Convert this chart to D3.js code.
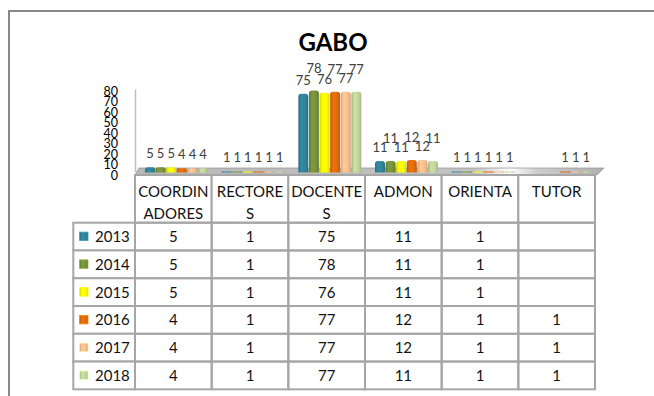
<!DOCTYPE html>
<html>
<head>
<meta charset="utf-8">
<script src="https://cdn.jsdelivr.net/npm/d3@7"></script>
<style>
  body { margin: 0; background: #fff; }
  svg { display: block; font-family: Lato, "Liberation Sans", sans-serif; }
</style>
</head>
<body>
<svg id="chart" width="654" height="396"></svg>
<script>
// Staff counts per role, one array per year
const categories = ["COORDINADORES", "RECTORES", "DOCENTES", "ADMON", "ORIENTA", "TUTOR"];
const years = ["2013", "2014", "2015", "2016", "2017", "2018"];
const v2013 = [5, 1, 75, 11, 1, null];
const v2014 = [5, 1, 78, 11, 1, null];
const v2015 = [5, 1, 76, 11, 1, null];
const v2016 = [4, 1, 77, 12, 1, 1];
const v2017 = [4, 1, 77, 12, 1, 1];
const v2018 = [4, 1, 77, 11, 1, 1];
const yTicks = [0, 10, 20, 30, 40, 50, 60, 70, 80];
const colors = ["#31849B", "#77933C", "#FFFF00", "#E36C09", "#FAC090", "#C3D69B"];

const seriesValues = [v2013, v2014, v2015, v2016, v2017, v2018];
const series = years.map((yr, i) => ({ year: yr, color: colors[i], values: seriesValues[i] }));

const svg = d3.select("#chart");
const defs = svg.append("defs");

// Outer frame
svg.append("rect").attr("x", 9).attr("y", 11).attr("width", 680).attr("height", 420)
  .attr("fill", "none").attr("stroke", "#888").attr("stroke-width", 2);

// Title
svg.append("text").attr("x", 333).attr("y", 51).attr("text-anchor", "middle")
  .attr("font-size", 24).attr("font-weight", 700).attr("fill", "#000").text("GABO");

// Scales
const x = d3.scaleBand().domain(categories).range([135, 595]);
const xs = d3.scaleBand().domain(years).range([10, 73]).paddingInner(0.06);
const y = d3.scaleLinear().domain([0, 80]).range([172.5, 88.5]);

// Bar shading gradients
series.forEach((s, i) => {
  const c = d3.color(s.color);
  const g = defs.append("linearGradient").attr("id", "bar" + i)
    .attr("x1", 0).attr("x2", 1).attr("y1", 0).attr("y2", 0);
  g.append("stop").attr("offset", 0).attr("stop-color", c.darker(0.5));
  g.append("stop").attr("offset", 0.3).attr("stop-color", c.brighter(0.15));
  g.append("stop").attr("offset", 0.7).attr("stop-color", c);
  g.append("stop").attr("offset", 1).attr("stop-color", c.darker(0.45));
});

// Floor gradient
const fg = defs.append("linearGradient").attr("id", "floor")
  .attr("x1", 0).attr("x2", 1).attr("y1", 0).attr("y2", 0);
[[0, "#b8b8b8"], [0.72, "#c2c2c2"], [0.8, "#ffffff"], [0.86, "#cccccc"], [1, "#b0b0b0"]]
  .forEach(([o, c]) => fg.append("stop").attr("offset", o).attr("stop-color", c));

// Back wall edge (value axis line)
svg.append("line").attr("x1", 135.5).attr("x2", 135.5).attr("y1", y(80) + 1).attr("y2", 172)
  .attr("stroke", "#bfbfbf").attr("stroke-width", 1.5);

// Floor slab
svg.append("path")
  .attr("d", "M139,168 L604,168 L597,175 L135,175 Z")
  .attr("fill", "url(#floor)").attr("stroke", "#999").attr("stroke-width", 0.8);

// Value axis labels
const axis = d3.axisLeft(y).tickValues(yTicks).tickSize(0).tickPadding(0);
const ag = svg.append("g").attr("transform", "translate(118,2.5)").call(axis);
ag.select(".domain").remove();
ag.selectAll("text")
  .attr("font-family", "Lato, 'Liberation Sans', sans-serif")
  .attr("font-size", 12.5).attr("fill", "#000")
  .attr("dy", "0.34em");

// Bars
const barPath = (x0, w, yTop, yBase) => {
  const r = Math.min(3, w / 2, (yBase - yTop) / 2);
  return `M${x0},${yBase} V${yTop + r} Q${x0},${yTop} ${x0 + r},${yTop} H${x0 + w - r} ` +
         `Q${x0 + w},${yTop} ${x0 + w},${yTop + r} V${yBase} Z`;
};

const bw = xs.bandwidth();
const labelLayer = svg.append("g");
series.forEach((s, i) => {
  const g = svg.append("g");
  const pts = categories.map((c, j) => ({ cat: c, v: s.values[j] })).filter(d => d.v != null);
  g.selectAll("path").data(pts).join("path")
    .attr("d", d => barPath(x(d.cat) + xs(s.year), bw, y(d.v), y(0)))
    .attr("fill", "url(#bar" + i + ")");
  // two-digit labels are staggered so neighbours stay readable
  labelLayer.selectAll(null).data(pts).join("text")
    .attr("x", d => x(d.cat) + xs(s.year) + bw / 2)
    .attr("y", d => y(d.v) - 9 - (d.v >= 10 && i % 2 === 1 ? 9 : 0))
    .attr("text-anchor", "middle").attr("font-size", 13).attr("fill", "#404040")
    .text(d => d.v);
});
labelLayer.raise();

// Data table
const headTop = 175, headH = 47.7, rowH = 27.77, legX = 73.3;
const tableStroke = "#a6a6a6";
const table = svg.append("g");

const wrap = name => name.length > 7 ? [name.slice(0, 7), name.slice(7)] : [name];

// Header cells
categories.forEach(c => {
  table.append("rect").attr("x", x(c)).attr("y", headTop).attr("width", x.bandwidth()).attr("height", headH)
    .attr("fill", "#fff").attr("stroke", tableStroke).attr("stroke-width", 2);
  wrap(c).forEach((line, k) => {
    table.append("text").attr("x", x(c) + x.bandwidth() / 2).attr("y", headTop + 22 + k * 22)
      .attr("text-anchor", "middle").attr("font-size", 15).attr("fill", "#111").text(line);
  });
});

// Body rows
series.forEach((s, i) => {
  const ry = headTop + headH + i * rowH;
  table.append("rect").attr("x", legX).attr("y", ry).attr("width", x(categories[0]) - legX).attr("height", rowH)
    .attr("fill", "#fff").attr("stroke", tableStroke).attr("stroke-width", 2);
  table.append("rect").attr("x", 79.5).attr("y", ry + rowH / 2 - 4.5).attr("width", 8.5).attr("height", 8.5)
    .attr("fill", "url(#bar" + i + ")").attr("stroke", d3.color(s.color).brighter(0.6)).attr("stroke-width", 0.8);
  table.append("text").attr("x", 95).attr("y", ry + rowH / 2 + 5.5)
    .attr("font-size", 15).attr("fill", "#111").text(s.year);
  categories.forEach((c, j) => {
    table.append("rect").attr("x", x(c)).attr("y", ry).attr("width", x.bandwidth()).attr("height", rowH)
      .attr("fill", "none").attr("stroke", tableStroke).attr("stroke-width", 2);
    if (s.values[j] != null) {
      table.append("text").attr("x", x(c) + x.bandwidth() / 2).attr("y", ry + rowH / 2 + 5.5)
        .attr("text-anchor", "middle").attr("font-size", 15).attr("fill", "#111").text(s.values[j]);
    }
  });
});
</script>
</body>
</html>
